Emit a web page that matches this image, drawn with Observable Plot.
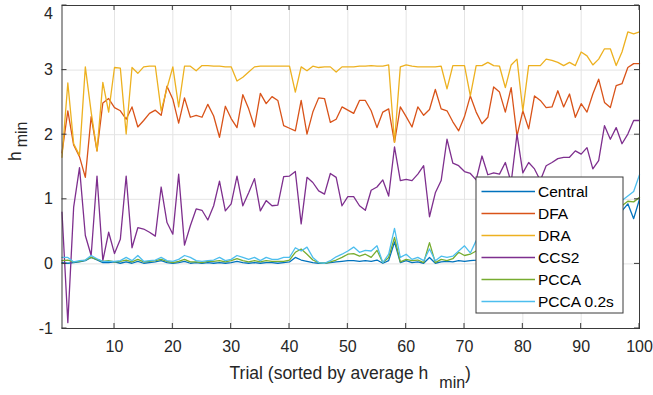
<!DOCTYPE html>
<html><head><meta charset="utf-8">
<script src="https://cdn.jsdelivr.net/npm/d3@7"></script>
<script src="https://cdn.jsdelivr.net/npm/@observablehq/plot@0.6"></script>
<style>html,body{margin:0;padding:0;background:#fff} svg{display:block}</style>
</head><body><div id="chart"></div>
<script>
const seriesNames = ["Central", "DFA", "DRA", "CCS2", "PCCA", "PCCA 0.2s"];
const seriesColors = ["#0072BD", "#D95319", "#EDB120", "#7E2F8E", "#77AC30", "#4DBEEE"];

const central = [0.02,0.01,0.02,0.03,0.05,0.10,0.06,0.02,0.02,0.03, 0.01,0.03,0.01,0.04,0.01,0.02,0.03,0.05,0.02,0.01,
  0.02,0.04,0.01,0.02,0.01,0.02,0.01,0.02,0.01,0.02, 0.04,0.02,0.01,0.02,0.01,0.02,0.02,0.01,0.02,0.03,
  0.10,0.06,0.04,0.02,0.01,0.01,0.02,0.03,0.04,0.05, 0.05,0.04,0.05,0.04,0.06,0.01,0.05,0.34,0.02,0.05,
  0.02,0.03,0.01,0.10,0.01,0.03,0.04,0.03,0.05,0.04, 0.05,0.06,0.08,0.10,0.12,0.10,0.15,0.18,0.20,0.22,
  0.25,0.28,0.30,0.33,0.36,0.40,0.42,0.45,0.50,0.52, 0.55,0.60,0.62,0.66,0.70,0.75,0.82,0.93,0.70,1.00];
const dfa = [1.72,2.37,1.84,1.66,1.34,2.28,1.75,2.49,2.56,2.42, 2.37,2.24,2.43,2.12,2.22,2.33,2.38,2.30,2.75,2.55,
  2.18,2.57,2.27,2.30,2.27,2.47,2.29,1.96,2.44,2.25, 2.11,2.62,2.40,2.12,2.64,2.48,2.59,2.53,2.14,2.10,
  2.06,2.53,2.01,2.35,2.57,2.56,2.19,2.24,2.43,2.38, 2.33,2.53,2.53,2.37,2.11,2.35,2.40,1.88,2.43,2.28,
  2.12,2.43,2.30,2.39,2.70,2.40,2.37,2.20,2.06,2.28, 2.60,2.35,2.17,2.27,2.74,2.66,2.35,2.73,1.98,2.37,
  2.09,2.60,2.53,2.42,2.43,2.68,2.43,2.63,2.27,2.48, 2.35,2.63,2.86,2.50,2.42,2.76,2.79,3.04,3.10,3.10];
const dra = [1.65,2.80,1.86,1.68,3.05,2.35,1.75,2.81,2.35,3.04, 3.03,2.01,3.04,2.95,3.05,3.06,3.06,2.37,2.72,3.05,
  2.43,3.06,3.06,2.99,3.07,3.07,3.06,3.06,3.05,3.05, 2.83,2.89,2.97,3.05,3.06,3.06,3.06,3.06,3.06,3.06,
  2.66,3.05,2.99,3.06,3.04,3.05,3.05,2.97,3.05,3.05, 3.05,3.06,3.06,3.07,3.06,3.06,3.08,1.88,3.05,3.08,
  3.06,3.05,3.05,3.05,3.05,3.06,2.71,3.07,3.07,3.07, 2.60,3.07,3.07,3.12,3.07,3.06,2.73,3.08,3.17,2.37,
  3.07,3.07,3.07,3.17,3.15,3.12,3.07,3.12,3.07,3.28, 3.22,3.08,3.17,3.33,3.33,3.07,3.28,3.59,3.56,3.59];
const ccs2 = [0.80,-0.91,0.88,1.49,0.44,0.13,1.36,0.05,0.49,0.16, 0.38,1.36,0.25,0.56,0.54,0.49,0.43,1.19,0.64,0.46,
  1.39,0.29,0.59,0.85,0.83,0.68,0.90,1.28,0.82,0.93, 1.36,0.90,1.10,1.32,0.82,0.98,0.90,0.91,1.35,1.36,
  1.43,0.62,1.34,1.26,1.13,1.08,1.40,1.34,0.90,1.04, 1.04,0.90,0.83,1.14,1.19,1.30,1.05,1.81,1.29,1.31,
  1.29,1.39,1.52,0.73,1.10,1.29,1.93,1.56,1.52,1.43, 1.40,1.30,1.67,1.38,1.41,1.39,1.57,1.26,2.01,1.41,
  1.57,1.47,1.29,1.52,1.57,1.63,1.65,1.65,1.75,1.70, 1.80,1.47,1.60,2.14,1.93,2.11,1.86,2.01,2.22,2.22];
const pcca = [0.05,0.06,0.03,0.04,0.06,0.10,0.07,0.04,0.05,0.03, 0.04,0.06,0.03,0.07,0.03,0.04,0.05,0.07,0.04,0.02,
  0.04,0.07,0.03,0.03,0.02,0.04,0.04,0.05,0.03,0.05, 0.08,0.05,0.03,0.05,0.03,0.05,0.04,0.04,0.04,0.06,
  0.18,0.23,0.15,0.06,0.02,0.01,0.03,0.06,0.10,0.15, 0.16,0.12,0.15,0.10,0.21,0.02,0.10,0.41,0.03,0.07,
  0.05,0.06,0.02,0.33,0.02,0.07,0.05,0.08,0.18,0.13, 0.15,0.20,0.20,0.22,0.25,0.23,0.28,0.30,0.32,0.35,
  0.37,0.40,0.42,0.45,0.48,0.50,0.55,0.57,0.60,0.63, 0.65,0.70,0.72,0.76,0.80,0.85,0.90,0.97,0.96,1.03];
const pcca02 = [0.10,0.10,0.03,0.05,0.06,0.13,0.08,0.04,0.04,0.04, 0.05,0.10,0.05,0.13,0.04,0.05,0.06,0.10,0.05,0.04,
  0.07,0.13,0.10,0.05,0.04,0.05,0.06,0.10,0.05,0.07, 0.13,0.10,0.07,0.10,0.05,0.10,0.07,0.07,0.10,0.10,
  0.25,0.20,0.26,0.10,0.02,0.01,0.05,0.11,0.15,0.20, 0.26,0.18,0.21,0.20,0.28,0.02,0.15,0.55,0.10,0.15,
  0.07,0.10,0.05,0.23,0.05,0.12,0.10,0.12,0.20,0.28, 0.17,0.36,0.30,0.35,0.32,0.38,0.40,0.45,0.42,0.48,
  0.50,0.55,0.52,0.58,0.60,0.65,0.62,0.68,0.70,0.75, 0.78,0.82,0.85,0.90,0.92,0.95,0.98,1.05,1.12,1.38];

const xTicks = [10, 20, 30, 40, 50, 60, 70, 80, 90, 100];
const yTicks = [-1, 0, 1, 2, 3, 4];
const xDomain = [1, 100];
const yDomain = [-1, 4];

const seriesValues = [central, dfa, dra, ccs2, pcca, pcca02];
const rows = [];
seriesValues.forEach((vals, k) => vals.forEach((v, i) => rows.push({trial: i + 1, value: v, series: seriesNames[k]})));

const FONT = "'Liberation Sans', Arial, Helvetica, sans-serif";
const TXT = "#262626";

const chart = Plot.plot({
  width: 653, height: 395,
  marginLeft: 61.5, marginRight: 14, marginTop: 5, marginBottom: 67,
  style: {fontFamily: FONT, fontSize: "16px", color: TXT, background: "#fff"},
  x: {domain: xDomain, ticks: xTicks, tickSize: 0, tickPadding: 12, label: null},
  y: {domain: yDomain, ticks: yTicks, tickSize: 0, tickPadding: 9, label: null, tickFormat: d => String(d)},
  color: {domain: seriesNames, range: seriesColors},
  marks: [
    Plot.ruleX(xTicks, {stroke: "#e4e4e4", strokeWidth: 1}),
    Plot.ruleY(yTicks, {stroke: "#e4e4e4", strokeWidth: 1}),
    Plot.line(rows, {x: "trial", y: "value", z: "series", stroke: "series", strokeWidth: 1.3}),
    Plot.frame({stroke: "#3a3a3a", strokeWidth: 1})
  ]
});
document.getElementById("chart").appendChild(chart);

const sx = chart.scale("x"), sy = chart.scale("y");
const svg = d3.select(chart);
const X0 = sx.apply(xDomain[0]), X1 = sx.apply(xDomain[1]);
const Y0 = sy.apply(yDomain[0]), Y1 = sy.apply(yDomain[1]);

// keep the top y tick label inside the picture, as in the reference
svg.selectAll("text").filter(function () {
  return this.textContent === String(yDomain[1]) && !this.closest("[aria-label='x-axis tick label']");
}).attr("dy", "0.55em");

const tickLen = 5;
const tg = svg.append("g").attr("stroke", "#3a3a3a").attr("stroke-width", 1);
xTicks.forEach(t => {
  const x = sx.apply(t);
  tg.append("line").attr("x1", x).attr("x2", x).attr("y1", Y0).attr("y2", Y0 - tickLen);
  tg.append("line").attr("x1", x).attr("x2", x).attr("y1", Y1).attr("y2", Y1 + tickLen);
});
yTicks.forEach(t => {
  const y = sy.apply(t);
  tg.append("line").attr("y1", y).attr("y2", y).attr("x1", X0).attr("x2", X0 + tickLen);
  tg.append("line").attr("y1", y).attr("y2", y).attr("x1", X1).attr("x2", X1 - tickLen);
});

// x axis label
const xl = svg.append("text")
  .attr("x", (X0 + X1) / 2).attr("y", Y0 + 51)
  .attr("text-anchor", "middle").attr("fill", TXT)
  .style("font-family", FONT).style("font-size", "17.5px");
xl.append("tspan").text("Trial (sorted by average h");
xl.append("tspan").attr("dx", 11).attr("dy", 9).style("font-size", "16px").text("min");
xl.append("tspan").attr("dy", -9).text(")");

// y axis label
const yl = svg.append("text")
  .attr("transform", `translate(21,161) rotate(-90)`)
  .attr("text-anchor", "start").attr("fill", TXT)
  .style("font-family", FONT).style("font-size", "17.5px");
yl.append("tspan").text("h");
yl.append("tspan").attr("dx", 4).attr("dy", 6).style("font-size", "16px").text("min");

// legend
const L = {x: 476, y: 177, w: 147, h: 136, row: 22, first: 14.5, lineX0: 5.5, lineX1: 59, textX: 62};
const lg = svg.append("g").attr("transform", `translate(${L.x},${L.y})`);
lg.append("rect").attr("width", L.w).attr("height", L.h).attr("fill", "#fff").attr("stroke", "#3a3a3a").attr("stroke-width", 1);
seriesNames.forEach((name, i) => {
  const y = L.first + i * L.row;
  lg.append("line").attr("x1", L.lineX0).attr("x2", L.lineX1).attr("y1", y).attr("y2", y)
    .attr("stroke", seriesColors[i]).attr("stroke-width", 1.3);
  lg.append("text").attr("x", L.textX).attr("y", y).attr("dy", "0.36em").attr("fill", "#000")
    .attr("text-anchor", "start")
    .style("font-family", FONT).style("font-size", "15.5px").text(name);
});
</script>
</body></html>
